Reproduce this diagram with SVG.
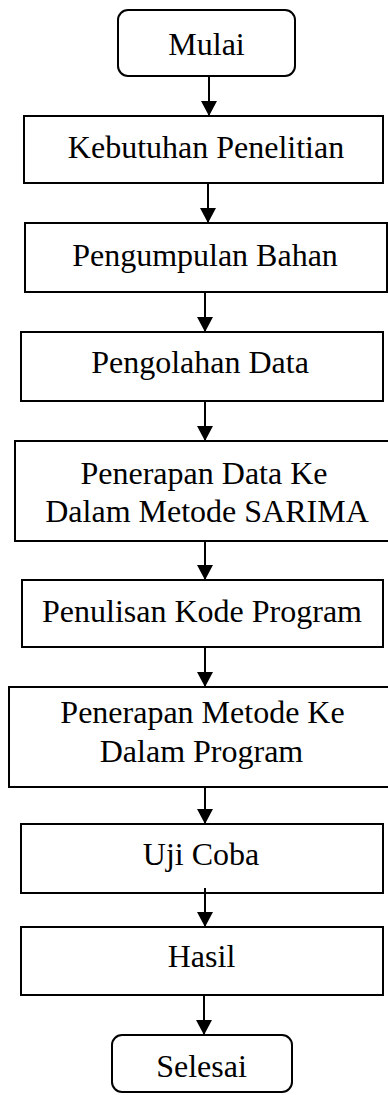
<svg xmlns="http://www.w3.org/2000/svg" width="388" height="1095" viewBox="0 0 388 1095">
<style>
.box{fill:#fff;stroke:#000;stroke-width:2}
.conn{stroke:#000;stroke-width:2;fill:none}
</style>
<defs>
<marker id="arr" viewBox="0 0 15 16" refX="15" refY="8" markerWidth="15" markerHeight="16" markerUnits="userSpaceOnUse" orient="auto">
<path d="M0,0 L15,8 L0,16 z" fill="#000"/>
</marker>
</defs>
<rect width="388" height="1095" fill="#fff"/>
<g font-family="Liberation Serif, Times New Roman, DejaVu Serif, serif" font-size="32" fill="#000" text-anchor="middle">
<g id="mulai"><rect class="box" x="118" y="10" width="177" height="66" rx="10"/><text x="206.5" y="55">Mulai</text></g>
<g id="kebutuhan"><rect class="box" x="24" y="116" width="359" height="67"/><text x="206" y="158">Kebutuhan Penelitian</text></g>
<g id="pengumpulan"><rect class="box" x="25" y="223" width="362" height="69"/><text x="205" y="266">Pengumpulan Bahan</text></g>
<g id="pengolahan"><rect class="box" x="21" y="332" width="362" height="69"/><text x="200" y="373">Pengolahan Data</text></g>
<g id="sarima"><rect class="box" x="15" y="441" width="380" height="100"/><text x="204" y="484">Penerapan Data Ke</text><text x="207" y="522">Dalam Metode SARIMA</text></g>
<g id="penulisan"><rect class="box" x="22" y="580" width="361" height="67"/><text x="202" y="622">Penulisan Kode Program</text></g>
<g id="penerapan"><rect class="box" x="9" y="687" width="386" height="100"/><text x="202.5" y="723">Penerapan Metode Ke</text><text x="201.5" y="762">Dalam Program</text></g>
<g id="ujicoba"><rect class="box" x="21" y="824" width="362" height="69"/><text x="201" y="865">Uji Coba</text></g>
<g id="hasil"><rect class="box" x="21" y="927" width="362" height="68"/><text x="201.5" y="967">Hasil</text></g>
<g id="selesai"><rect class="box" x="112" y="1035" width="180" height="57" rx="10"/><text x="201.5" y="1077">Selesai</text></g>
</g>
<g id="connectors">
<line class="conn" x1="209" y1="76" x2="209" y2="116" marker-end="url(#arr)"/>
<line class="conn" x1="208" y1="183" x2="208" y2="223" marker-end="url(#arr)"/>
<line class="conn" x1="205" y1="292" x2="205" y2="332" marker-end="url(#arr)"/>
<line class="conn" x1="205" y1="401" x2="205" y2="441" marker-end="url(#arr)"/>
<line class="conn" x1="205" y1="541" x2="205" y2="580" marker-end="url(#arr)"/>
<line class="conn" x1="205" y1="647" x2="205" y2="687" marker-end="url(#arr)"/>
<line class="conn" x1="205" y1="787" x2="205" y2="824" marker-end="url(#arr)"/>
<line class="conn" x1="205" y1="888" x2="205" y2="927" marker-end="url(#arr)"/>
<line class="conn" x1="204" y1="995" x2="204" y2="1035" marker-end="url(#arr)"/>
</g>
</svg>
